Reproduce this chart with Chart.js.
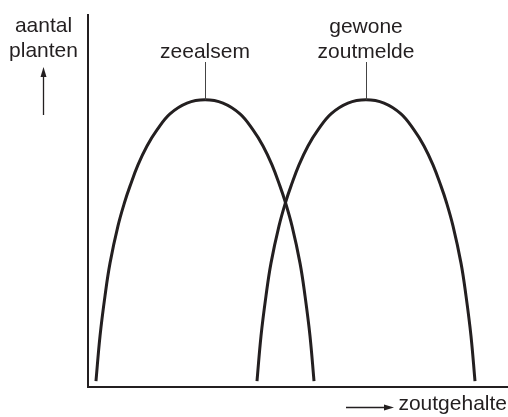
<!DOCTYPE html>
<html><head><meta charset="utf-8">
<script src="https://cdn.jsdelivr.net/npm/chart.js@4/dist/chart.umd.min.js"></script>
<style>html,body{margin:0;padding:0;background:#fff}#wrap{width:508px;height:417px}</style>
</head><body><div id="wrap"><canvas id="c" width="508" height="417"></canvas></div>
<script>
// zoutgehalte (x) and aantal planten (y)
const zeealsemX = [1.9, 2.86, 4.05, 5.24, 7.14, 8.81, 10.0, 11.9, 14.05, 16.43, 19.52, 23.57, 27.86,
  32.14, 36.19, 39.29, 41.67, 43.81, 45.71, 46.9, 48.57, 50.48, 51.67, 52.86, 53.81];
const zeealsemY = [1.6, 13.7, 24.5, 33.3, 43.3, 50.0, 54.0, 59.7, 64.8, 69.1, 73.4, 76.3, 77.2,
  76.3, 73.4, 69.1, 64.8, 59.7, 54.0, 50.0, 43.3, 33.3, 24.5, 13.7, 1.6];
const zoutmeldeX = [40.24, 41.19, 42.38, 43.57, 45.48, 47.14, 48.33, 50.24, 52.38, 54.76, 57.86, 61.9, 66.19,
  70.48, 74.52, 77.62, 80.0, 82.14, 84.05, 85.24, 86.9, 88.81, 90.0, 91.19, 92.14];
const zoutmeldeY = [1.6, 13.7, 24.5, 33.3, 43.3, 50.0, 54.0, 59.7, 64.8, 69.1, 73.4, 76.3, 77.2,
  76.3, 73.4, 69.1, 64.8, 59.7, 54.0, 50.0, 43.3, 33.3, 24.5, 13.7, 1.6];
const seriesNames = ['zeealsem', 'gewone zoutmelde'];
const peakLabels = [['zeealsem'], ['gewone', 'zoutmelde']];
const peakX = [27.86, 66.19];
const peakY = [77.2, 77.2];
const yAxisLabel = ['aantal', 'planten'];
const xAxisLabel = 'zoutgehalte';

const INK = '#231f20';
const FONT = '21px "Liberation Sans", Arial, Helvetica, sans-serif';

function pts(xs, ys) { return xs.map((x, i) => ({x: x, y: ys[i]})); }

const annot = {
  id: 'annot',
  afterDraw(chart) {
    const ctx = chart.ctx, xs = chart.scales.x, ys = chart.scales.y;
    ctx.save();
    ctx.fillStyle = INK;
    ctx.font = FONT;
    ctx.textAlign = 'center';
    ctx.textBaseline = 'alphabetic';
    // y axis label + arrow
    ctx.fillText(yAxisLabel[0], 43.5, 32);
    ctx.fillText(yAxisLabel[1], 43.5, 57);
    ctx.strokeStyle = INK;
    ctx.lineWidth = 1.3;
    ctx.beginPath(); ctx.moveTo(43.5, 115); ctx.lineTo(43.5, 74); ctx.stroke();
    ctx.beginPath(); ctx.moveTo(43.5, 67); ctx.lineTo(40.5, 77); ctx.lineTo(46.5, 77); ctx.closePath(); ctx.fill();
    // peak labels with leader lines
    const lineH = 25;
    peakLabels.forEach((lines, i) => {
      const px = xs.getPixelForValue(peakX[i]);
      const py = ys.getPixelForValue(peakY[i]);
      const lastBase = 57.5;
      lines.forEach((t, j) => {
        ctx.fillText(t, px, lastBase - (lines.length - 1 - j) * lineH);
      });
      ctx.strokeStyle = '#444';
      ctx.lineWidth = 1;
      ctx.beginPath(); ctx.moveTo(Math.round(px) + 0.5, 62); ctx.lineTo(Math.round(px) + 0.5, py); ctx.stroke();
    });
    // x axis label + arrow
    ctx.textAlign = 'right';
    ctx.fillText(xAxisLabel, 507, 410);
    ctx.strokeStyle = INK;
    ctx.lineWidth = 1.3;
    ctx.beginPath(); ctx.moveTo(346, 407.5); ctx.lineTo(386, 407.5); ctx.stroke();
    ctx.beginPath(); ctx.moveTo(394, 407.5); ctx.lineTo(384, 404.5); ctx.lineTo(384, 410.5); ctx.closePath(); ctx.fill();
    ctx.restore();
  }
};

new Chart(document.getElementById('c'), {
  type: 'line',
  data: {
    datasets: [
      {label: seriesNames[0], data: pts(zeealsemX, zeealsemY)},
      {label: seriesNames[1], data: pts(zoutmeldeX, zoutmeldeY)}
    ].map(d => Object.assign(d, {
      borderColor: INK, borderWidth: 3, pointRadius: 0, fill: false,
      tension: 0.4, borderCapStyle: 'butt', borderJoinStyle: 'round'
    }))
  },
  options: {
    responsive: false,
    animation: false,
    devicePixelRatio: 1,
    layout: {padding: {left: 88, top: 15, right: 0, bottom: 30}},
    plugins: {legend: {display: false}, tooltip: {enabled: false}},
    scales: {
      x: {type: 'linear', min: 0, max: 100,
        ticks: {display: false}, grid: {display: false, drawTicks: false, tickLength: 0},
        border: {display: true, color: INK, width: 2}},
      y: {type: 'linear', min: 0, max: 100,
        ticks: {display: false}, grid: {display: false, drawTicks: false, tickLength: 0},
        border: {display: true, color: INK, width: 2}}
    }
  },
  plugins: [annot]
});
</script>
</body></html>
